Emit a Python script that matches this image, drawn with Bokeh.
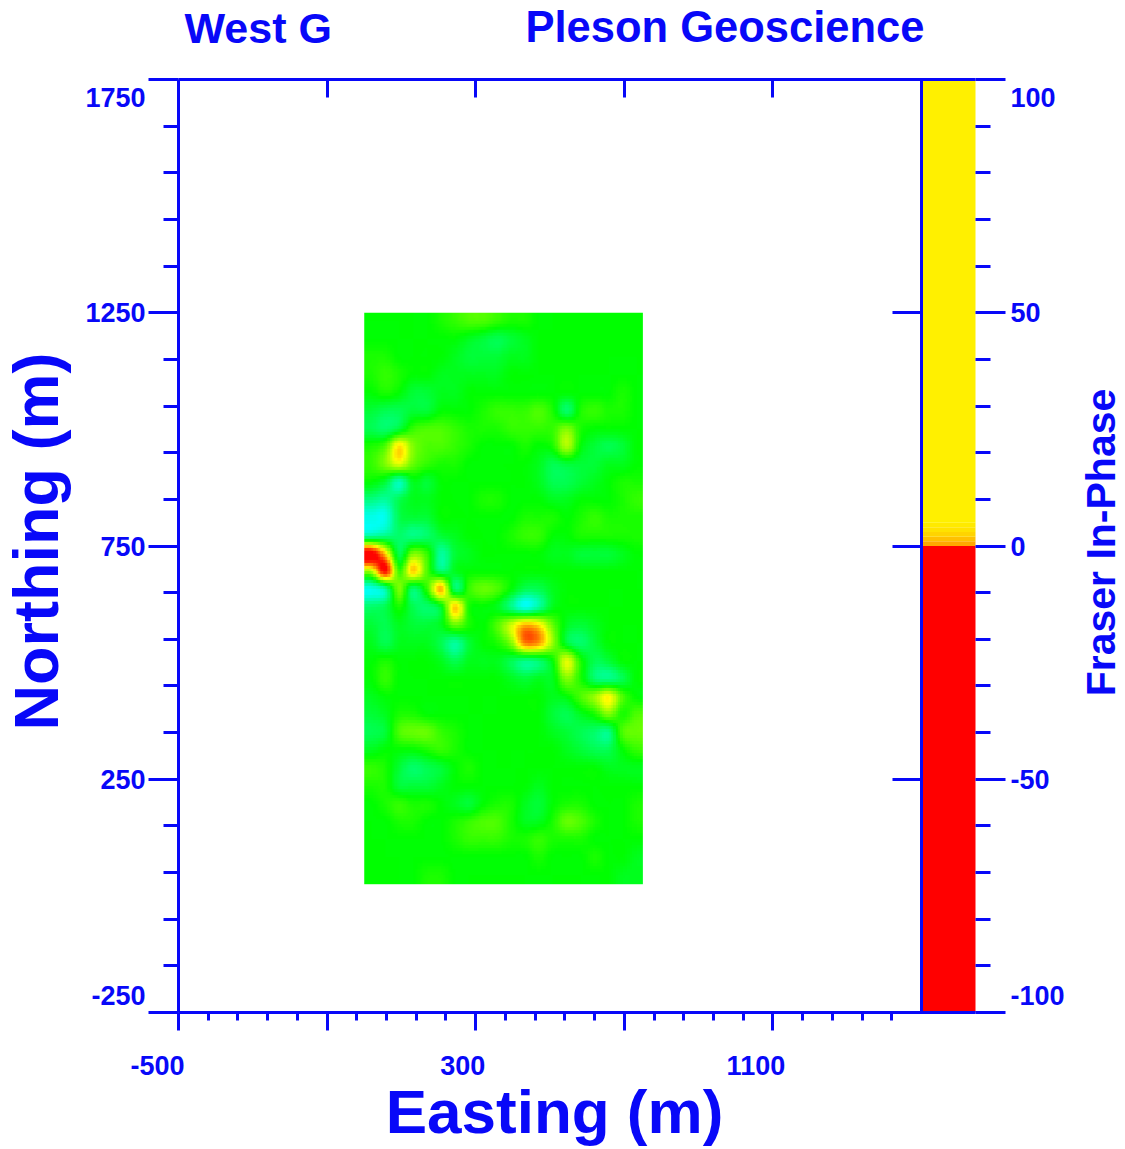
import numpy as np
from bokeh.embed import file_html
from bokeh.resources import INLINE
from bokeh.plotting import figure
from bokeh.models import Range1d, LinearAxis, FixedTicker, Label, LinearColorMapper, CustomJSTickFormatter

title_left = "West G"
title_right = "Pleson Geoscience"
x_title = "Easting (m)"
y_title = "Northing (m)"
bar_title = "Fraser In-Phase"
x_labels = [-500, 300, 1100]
y_labels = [1750, 1250, 750, 250, -250]
bar_labels = [100, 50, 0, -50, -100]

# survey grid extent (m)
grid_x0, grid_x1 = 0, 750
grid_y0, grid_y1 = 25, 1250

# relative response; rows run north to south, columns west to east
grid_values = [
    [0, 0, 0, 0, 0, 1, 2, 3, 3, 2, 1, 1, 0, 0, 0, 0, 0, 0, 0, 0],
    [0, 0, 0, 0, 0, 0, 0, -1, -2, -3, -2, -1, 0, 0, 0, 0, 0, 0, 0, 0],
    [1, 1, 0, 0, 0, 0, -1, -2, -2, -2, -1, -1, 0, 0, 0, 0, 0, 0, 0, 0],
    [1, 2, 1, 0, 0, -1, -1, -1, -1, -1, 0, 0, 0, 0, 0, 0, 0, 0, 0, 0],
    [0, 1, 0, -2, -2, -1, -1, 0, 0, 0, 0, 0, 0, 0, 0, 0, 0, 0, 1, 0],
    [-2, -3, -3, -2, -2, 0, 0, 0, 1, 2, 2, 2, 3, 1, -4, 1, 2, 1, 1, 0],
    [-3, -4, -2, 2, 3, 3, 2, 1, 1, 1, 2, 2, 2, 2, 5, 1, 0, 0, 0, 0],
    [1, 3, 11, 5, 3, 3, 2, 1, 0, 0, 0, 1, 0, 1, 7, 0, -2, -3, -2, 0],
    [2, 5, 9, 4, 2, 1, 1, 0, 0, 0, 0, 0, -1, -3, -2, -2, -2, -1, -1, 0],
    [0, -2, -7, -1, -2, 0, 0, 0, 0, 0, 0, 0, -1, -3, -3, -2, -1, 0, 1, 1],
    [-5, -6, -3, -1, -1, 0, 0, 0, 1, 1, 0, 0, 0, -1, -1, 0, 0, 0, 1, 2],
    [-9, -9, -3, -2, -2, 0, 0, 0, 0, 0, 0, 1, 1, 1, 0, 1, 2, 1, 1, 1],
    [-6, -5, -4, -5, -4, -2, -1, 0, 0, 0, 1, 2, 2, 0, 0, 1, 1, 1, 1, 1],
    [22, 12, -3, 5, 2, -6, -2, -1, 0, 0, 0, 0, 0, -1, -1, -2, -2, -2, -1, 0],
    [7, 20, 2, 12, 3, -4, -1, 0, 0, 0, 0, 0, 0, 0, 0, 0, 0, 0, 0, 0],
    [-9, -6, 5, -4, 2, 13, -4, 2, 4, 3, 0, -3, -3, -1, 0, 0, 0, 0, 0, 0],
    [-4, -3, 1, -3, -4, -1, 12, 1, 0, -1, -5, -9, -6, -1, 0, 0, 0, 0, 0, 0],
    [-2, -3, -1, -2, -2, -1, 4, 1, 0, 3, 8, 13, 11, 4, -1, -2, -1, 0, 0, 0],
    [-1, -3, -1, -1, -1, -3, -6, -2, 0, 1, 5, 15, 14, 6, -2, -4, -2, 0, 0, 0],
    [0, 1, 0, 0, 0, -1, -3, -1, -1, -1, -3, -5, -4, 0, 9, 1, -3, -2, 0, 0],
    [0, 2, 0, 0, 0, 0, 0, 0, 0, 0, -1, -2, -1, -1, 5, 1, -4, -5, -3, 0],
    [-1, 0, 0, 0, 0, 0, 0, 0, 0, 0, 0, 0, 0, -1, 0, 3, 6, 10, 3, 0],
    [-2, -1, 1, 1, 0, 0, 0, 0, 0, 0, 0, 0, 0, -2, -3, -1, 1, 5, 1, 3],
    [-3, -2, 3, 4, 4, 2, 1, 0, 0, 0, 0, 0, 0, -1, -2, -3, -4, -5, 3, 4],
    [-1, 0, 0, 0, 1, 2, 1, 0, 0, 0, 0, 0, 0, 0, -1, -2, -3, -3, 0, 2],
    [2, 1, -2, -4, -3, -2, 0, 1, 0, 0, 0, 0, 0, 0, 0, 0, 0, -1, -1, -1],
    [1, 1, -2, -2, -2, -1, 0, 0, 0, 0, 0, 0, -1, 0, 0, 0, 0, 0, 0, 0],
    [0, 1, 2, 1, 1, 0, -1, -2, 0, 1, 1, -1, -2, 0, 1, 1, 0, 0, 0, 1],
    [0, 0, 1, 1, 0, 0, 1, 2, 3, 3, 1, -1, -1, 1, 4, 3, 1, 0, 0, 1],
    [0, 0, 0, 0, 0, 0, 1, 2, 2, 2, 1, 1, 2, 1, 1, 1, 0, 0, 0, 0],
    [0, 0, 0, 0, 0, 0, 0, 0, 0, 0, 0, 0, 1, 0, 0, 0, 1, 0, 0, -1],
    [0, 0, 0, 0, 1, 1, 0, 0, 0, 0, 0, 0, 0, 0, 0, 0, 0, 0, -1, -1],
]

# colour bar bands as drawn in the reference
bar_bottom = [-100, 0, 1, 2, 3, 4, 5]
bar_top = [0, 1, 2, 3, 4, 5, 100]
bar_color = ["#ff0000", "#ffa800", "#ffc000", "#ffd400", "#ffe200", "#ffea00", "#fff000"]

BLUE = "#0808f8"
FONT = "Liberation Sans"
W, H = 1125, 1149
# page pixels of the plot box
PX0, PX1, PY0, PY1 = 178.0, 921.0, 79.0, 1012.0
X0, X1, Y0, Y1 = -500.0, 1500.0, 1750.0, -250.0
sx = (X1 - X0) / (PX1 - PX0)
sy = (Y1 - Y0) / (PY1 - PY0)
BAR_RIGHT = X1 + (975 - PX1) * sx


def smooth(a, fx, fy):
    """Display-only shading between grid cells, like the original's smooth raster."""
    def resample(m, f):
        n = m.shape[0]
        pos = (np.arange(n * f) + 0.5) / f - 0.5
        i = np.floor(pos).astype(int)
        t = (pos - i)[:, None]
        p = lambda k: m[np.clip(k, 0, n - 1)]
        return 0.5 * (2 * p(i) + (p(i + 1) - p(i - 1)) * t
                      + (2 * p(i - 1) - 5 * p(i) + 4 * p(i + 1) - p(i + 2)) * t ** 2
                      + (3 * p(i) - p(i - 1) - 3 * p(i + 1) + p(i + 2)) * t ** 3)
    return resample(resample(a, fy).T, fx).T


def ramp(stops, n=64):
    out = []
    for (a, b) in zip(stops[:-1], stops[1:]):
        for k in range(n):
            c = [int(round(a[j] + (b[j] - a[j]) * k / n)) for j in range(3)]
            out.append("#%02x%02x%02x" % tuple(c))
    return out


mapper = LinearColorMapper(
    palette=ramp([(0, 255, 255), (0, 255, 0), (255, 255, 0), (255, 0, 0)]), low=-10, high=20)

y_bottom = Y0 + (H - PY0) * sy
y_top = Y0 + (0 - PY0) * sy
p = figure(width=W, height=H, output_backend="svg", toolbar_location=None,
           x_range=Range1d(X0 + (0 - PX0) * sx, X0 + (W - PX0) * sx),
           y_range=Range1d(y_bottom, y_top),
           x_axis_type=None, y_axis_type=None,
           min_border=0, outline_line_color=None)
p.grid.visible = False
# The colour bar's own scale: -100 .. 100 over the same plot box height
p.extra_y_ranges = {"bar": Range1d((y_bottom - 750) / 10, (y_top - 750) / 10)}

img = smooth(np.array(grid_values, dtype=float), 6, 6)[::-1]
p.image(image=[img], x=grid_x0, y=grid_y0, dw=grid_x1 - grid_x0, dh=grid_y1 - grid_y0,
        color_mapper=mapper)

p.quad(left=X1, right=BAR_RIGHT, bottom=bar_bottom, top=bar_top, fill_color=bar_color,
       line_color=None, y_range_name="bar")

blank = CustomJSTickFormatter(code="return ''")


def style(ax, major_in=0, major_out=0, minor_in=0, minor_out=0):
    ax.axis_line_color = BLUE
    ax.axis_line_width = 3
    ax.major_tick_line_color = BLUE
    ax.major_tick_line_width = 3
    ax.minor_tick_line_color = BLUE
    ax.minor_tick_line_width = 3
    ax.major_tick_in = major_in
    ax.major_tick_out = major_out
    ax.minor_tick_in = minor_in
    ax.minor_tick_out = minor_out
    ax.formatter = blank
    ax.major_label_standoff = 0
    return ax


x_major = [-500, -100, 300, 700, 1100]
x_minor = [v for v in range(-500, 1500, 80) if v not in x_major]
y_major = [-250, 250, 750, 1250, 1750]
y_minor = [v for v in range(-250, 1751, 100) if v not in y_major]

bottom = style(LinearAxis(ticker=FixedTicker(ticks=x_major, minor_ticks=x_minor),
                          fixed_location=-250, bounds=(-500, BAR_RIGHT)), major_out=18, minor_out=8)
top = style(LinearAxis(ticker=FixedTicker(ticks=[-100, 300, 700, 1100]),
                       fixed_location=1750, bounds=(-500, BAR_RIGHT)), major_in=18)
left = style(LinearAxis(ticker=FixedTicker(ticks=y_major, minor_ticks=y_minor),
                        fixed_location=-500, bounds=(-250, 1750)), major_out=30, minor_out=15)
right = style(LinearAxis(ticker=FixedTicker(ticks=y_major),
                         fixed_location=1500, bounds=(-250, 1750)), major_in=29)
p.add_layout(bottom, "below")
p.add_layout(top, "above")
p.add_layout(left, "left")
p.add_layout(right, "right")

bar_major = [-100, -50, 0, 50, 100]
bar_minor = [v for v in range(-100, 101, 10) if v not in bar_major]
bar_axis = style(LinearAxis(ticker=FixedTicker(ticks=bar_major, minor_ticks=bar_minor),
                            fixed_location=BAR_RIGHT, y_range_name="bar", bounds=(-100, 100)),
                 major_out=30, minor_out=15)
bar_axis.axis_line_color = None
p.add_layout(bar_axis, "right")


def scr(text, x, y, size, angle=0.0, align="center"):
    """Place a text by page position, measured from the page's top-left."""
    p.add_layout(Label(x=x, y=H - y, x_units="screen", y_units="screen", text=text,
                       text_font=FONT, text_font_style="bold", text_font_size=f"{size}px",
                       text_color=BLUE, text_align=align, text_baseline="middle", angle=angle))


def tick_label(v, x, y, dx, dy, align, **kw):
    p.add_layout(Label(x=x, y=y, x_offset=dx, y_offset=dy, text=str(v), text_font=FONT,
                       text_font_style="bold", text_font_size="27px", text_color=BLUE,
                       text_align=align, text_baseline="middle", **kw))


x_shift = {-500: -21, 300: -13, 1100: -17}
for v in x_labels:
    tick_label(v, v, -250, x_shift[v], -53, "center")
y_shift = {1750: -18, -250: 17}
for v in y_labels:
    tick_label(v, -500, v, -33, y_shift.get(v, 0), "right")
bar_shift = {100: -18, -100: 17}
for v in bar_labels:
    tick_label(v, BAR_RIGHT, v, 35, bar_shift.get(v, 0), "left", y_range_name="bar")

scr(title_left, 184, 27, 43, align="left")
scr(title_right, 525, 26, 43.5, align="left")
scr(x_title, 554, 1111, 62)
scr(y_title, 35, 541, 63, angle=np.pi / 2)
scr(bar_title, 1100, 542, 41, angle=np.pi / 2)

open("out.html", "w").write(file_html(p, INLINE))
